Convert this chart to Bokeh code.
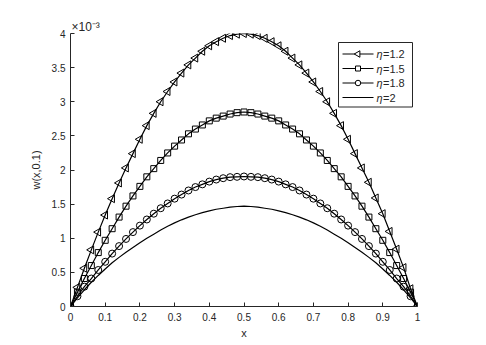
import math
from bokeh.plotting import figure
from bokeh.models import FixedTicker, Title
from bokeh.core.properties import value
from bokeh.embed import file_html
from bokeh.resources import INLINE

# x grid (sample positions)
x = [0.00, 0.02, 0.04, 0.06, 0.08, 0.10, 0.12, 0.14, 0.16, 0.18, 0.20,
     0.22, 0.24, 0.26, 0.28, 0.30, 0.32, 0.34, 0.36, 0.38, 0.40,
     0.42, 0.44, 0.46, 0.48, 0.50, 0.52, 0.54, 0.56, 0.58, 0.60,
     0.62, 0.64, 0.66, 0.68, 0.70, 0.72, 0.74, 0.76, 0.78, 0.80,
     0.82, 0.84, 0.86, 0.88, 0.90, 0.92, 0.94, 0.96, 0.98, 1.00]

# w(x,0.1) in units of 1e-3
w_eta_1_2 = [0, 0.28, 0.56, 0.83, 1.09, 1.34, 1.58, 1.81, 2.03, 2.24, 2.45,
             2.65, 2.83, 3.00, 3.15, 3.29, 3.42, 3.54, 3.64, 3.74, 3.82,
             3.88, 3.93, 3.97, 3.99, 4.00, 3.99, 3.97, 3.93, 3.88, 3.82,
             3.74, 3.64, 3.54, 3.42, 3.29, 3.15, 3.00, 2.83, 2.65, 2.45,
             2.24, 2.03, 1.82, 1.59, 1.36, 1.10, 0.84, 0.57, 0.26, 0]
w_eta_1_5 = [0, 0.21, 0.41, 0.60, 0.79, 0.97, 1.14, 1.31, 1.47, 1.62, 1.76,
             1.90, 2.02, 2.14, 2.25, 2.35, 2.44, 2.53, 2.60, 2.66, 2.72,
             2.76, 2.79, 2.82, 2.84, 2.85, 2.84, 2.82, 2.79, 2.76, 2.72,
             2.66, 2.60, 2.53, 2.44, 2.35, 2.25, 2.14, 2.02, 1.90, 1.76,
             1.62, 1.47, 1.31, 1.14, 0.97, 0.79, 0.60, 0.41, 0.21, 0]
w_eta_1_8 = [0, 0.15, 0.29, 0.41, 0.535, 0.655, 0.775, 0.885, 0.99, 1.09, 1.185,
             1.275, 1.36, 1.44, 1.51, 1.58, 1.64, 1.70, 1.75, 1.79, 1.83,
             1.86, 1.88, 1.895, 1.90, 1.905, 1.90, 1.895, 1.88, 1.86, 1.83,
             1.79, 1.75, 1.70, 1.64, 1.58, 1.51, 1.44, 1.36, 1.275, 1.185,
             1.09, 0.99, 0.885, 0.775, 0.655, 0.535, 0.41, 0.29, 0.15, 0]
w_eta_2 = [0, 0.125, 0.245, 0.355, 0.455, 0.55, 0.64, 0.72, 0.795, 0.865, 0.935,
           1.00, 1.06, 1.12, 1.175, 1.225, 1.27, 1.31, 1.345, 1.375, 1.40,
           1.425, 1.44, 1.455, 1.465, 1.47, 1.465, 1.455, 1.44, 1.425, 1.40,
           1.375, 1.345, 1.31, 1.27, 1.225, 1.175, 1.12, 1.06, 1.00, 0.935,
           0.865, 0.795, 0.72, 0.64, 0.55, 0.455, 0.355, 0.245, 0.125, 0]

x_ticks = [0, 0.1, 0.2, 0.3, 0.4, 0.5, 0.6, 0.7, 0.8, 0.9, 1]
x_tick_labels = ["0", "0.1", "0.2", "0.3", "0.4", "0.5", "0.6", "0.7", "0.8", "0.9", "1"]
y_ticks = [0, 0.5, 1, 1.5, 2, 2.5, 3, 3.5, 4]
y_tick_labels = ["0", "0.5", "1", "1.5", "2", "2.5", "3", "3.5", "4"]
legend_symbol = "η"
legend_values = ["=1.2", "=1.5", "=1.8", "=2"]

FONT = "Liberation Sans"
DARK = "#262626"
FW, FH = 347, 273
X0, X1, Y0, Y1 = 0.0, 1.0, 0.0, 4.0

p = figure(output_backend="svg", toolbar_location=None,
           frame_width=FW, frame_height=FH,
           x_range=(X0, X1), y_range=(Y0, Y1),
           min_border_left=70, min_border_right=60,
           min_border_top=33, min_border_bottom=33,
           background_fill_color="white", border_fill_color="white")
p.outline_line_color = None
p.grid.visible = False

for ax in (p.xaxis[0], p.yaxis[0]):
    ax.major_tick_in = 4
    ax.major_tick_out = 0
    ax.minor_tick_line_color = None
    ax.axis_line_color = DARK
    ax.major_tick_line_color = DARK
    ax.major_label_text_color = DARK
    ax.major_label_text_font = FONT
    ax.major_label_text_font_size = "10px"
    ax.axis_label_text_font = FONT
    ax.axis_label_text_font_size = "11px"
    ax.axis_label_text_font_style = "normal"
    ax.axis_label_text_color = DARK

p.xaxis.ticker = FixedTicker(ticks=x_ticks)
p.xaxis.major_label_overrides = {t: l for t, l in zip(x_ticks, x_tick_labels)}
p.yaxis.ticker = FixedTicker(ticks=y_ticks)
p.yaxis.major_label_overrides = {t: l for t, l in zip(y_ticks, y_tick_labels)}
p.xaxis.axis_label = "x"
p.yaxis.axis_label = "w(x,0.1)"
p.xaxis.major_label_standoff = 6
p.xaxis.axis_label_standoff = 3
p.yaxis.major_label_standoff = 5
p.yaxis.axis_label_standoff = 7

# exponent note above the y axis
p.add_layout(Title(text="×10⁻³", align="left", offset=1, standoff=0,
                   text_font=FONT, text_font_size="12px",
                   text_font_style="normal", text_color=DARK), "above")

p.line(x, w_eta_1_2, line_color="black", line_width=1.2)
p.scatter(x, w_eta_1_2, marker="triangle", angle=math.pi / 2, size=8,
          fill_color=None, line_color="black", line_width=1)
p.line(x, w_eta_1_5, line_color="black", line_width=1.2)
p.scatter(x, w_eta_1_5, marker="square", size=6,
          fill_color=None, line_color="black", line_width=1)
p.line(x, w_eta_1_8, line_color="black", line_width=1.2)
p.scatter(x, w_eta_1_8, marker="circle", size=7,
          fill_color=None, line_color="black", line_width=1)
p.line(x, w_eta_2, line_color="black", line_width=1.2)

# ---- legend drawn by hand (so the triangle can point left) ----
def dx(px):   # horizontal pixel offset from frame left -> data x
    return X0 + (X1 - X0) * px / FW

def dy(px):   # vertical pixel offset from frame top -> data y
    return Y1 - (Y1 - Y0) * px / FH

box_l, box_r, box_t, box_b = 268, 342, 9, 73.5
row_px = [20.5, 35, 49.5, 64]
p.quad(left=[dx(box_l)], right=[dx(box_r)], top=[dy(box_t)], bottom=[dy(box_b)],
       fill_color="white", line_color=DARK, line_width=1)
seg_l, seg_r, txt_x, txt_x2 = 272, 303, 306, 312.5
rows_y = [dy(r) for r in row_px]
p.segment(x0=[dx(seg_l)] * 4, x1=[dx(seg_r)] * 4, y0=rows_y, y1=rows_y,
          line_color="black", line_width=1)
mx = dx((seg_l + seg_r) / 2)
p.scatter([mx], [rows_y[0]], marker="triangle", angle=math.pi / 2, size=6.5,
          fill_color="white", line_color="black", line_width=1)
p.scatter([mx], [rows_y[1]], marker="square", size=5,
          fill_color="white", line_color="black", line_width=1)
p.scatter([mx], [rows_y[2]], marker="circle", size=5.5,
          fill_color="white", line_color="black", line_width=1)
p.text(x=[dx(txt_x)] * 4, y=rows_y, text=[legend_symbol] * 4,
       text_font=value(FONT), text_font_size="11px", text_font_style="italic",
       text_baseline="middle", text_align="left", text_color=DARK)
p.text(x=[dx(txt_x2)] * 4, y=rows_y, text=legend_values,
       text_font=value(FONT), text_font_size="11px",
       text_baseline="middle", text_align="left", text_color=DARK)

open("out.html", "w").write(file_html(p, INLINE))
